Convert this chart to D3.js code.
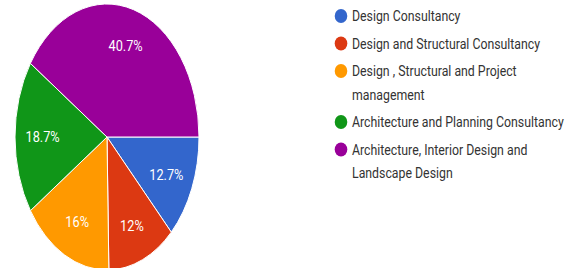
<!DOCTYPE html>
<html>
<head>
<meta charset="utf-8">
<script src="https://cdn.jsdelivr.net/npm/d3@7"></script>
<style>
  body { margin: 0; background: #fff; }
  svg { display: block; }
</style>
</head>
<body>
<div id="chart"></div>
<script>
// chart data
const categories = [
  "Design Consultancy",
  "Design and Structural Consultancy",
  "Design , Structural and Project management",
  "Architecture and Planning Consultancy",
  "Architecture, Interior Design and Landscape Design"
];
const shares = [12.7, 12, 16, 18.7, 40.7];
const shareLabels = ["12.7%", "12%", "16%", "18.7%", "40.7%"];
const colors = ["#3366cc", "#dc3912", "#ff9900", "#109618", "#990099"];

const w = 582, h = 268;
const cx = 107, cy = 137;
const ry = 133, squeeze = 92 / 133;   // pie is stretched tall in the picture
const textSqueeze = 0.88;

const svg = d3.select("#chart").append("svg")
  .attr("width", w)
  .attr("height", h);

const pie = d3.pie()
  .sort(null)
  .value(d => d)
  .startAngle(Math.PI / 2)
  .endAngle(Math.PI / 2 + 2 * Math.PI);

const arcs = pie(shares);
const arc = d3.arc().innerRadius(0).outerRadius(ry);
const labelArc = d3.arc().innerRadius(ry * 0.7).outerRadius(ry * 0.7);

const pieG = svg.append("g")
  .attr("transform", "translate(" + cx + "," + cy + ") scale(" + squeeze + ",1)");

pieG.selectAll("path")
  .data(arcs)
  .enter()
  .append("path")
  .attr("d", arc)
  .attr("fill", (d, i) => colors[i])
  .attr("stroke", "#fff")
  .attr("stroke-width", 1)
  .attr("vector-effect", "non-scaling-stroke");

// slice labels
svg.selectAll("text.slice")
  .data(arcs)
  .enter()
  .append("text")
  .attr("class", "slice")
  .attr("transform", d => {
    const c = labelArc.centroid(d);
    return "translate(" + (cx + c[0] * squeeze) + "," + (cy + c[1] * 1.03) + ") scale(0.85,1)";
  })
  .attr("text-anchor", "middle")
  .attr("dominant-baseline", "central")
  .attr("font-family", "Roboto, Arial, sans-serif")
  .attr("font-size", 15)
  .attr("fill", "#fff")
  .text((d, i) => shareLabels[i]);

// legend
const legendX = 341, textX = 352, maxW = 224;
const legend = svg.append("g");
let y = 16;
categories.forEach((name, i) => {
  legend.append("ellipse")
    .attr("cx", legendX)
    .attr("cy", y)
    .attr("rx", 6.3)
    .attr("ry", 7)
    .attr("fill", colors[i]);

  const t = legend.append("text")
    .attr("transform", "translate(" + textX + ",0) scale(" + textSqueeze + ",1)")
    .attr("font-family", "Roboto, Arial, sans-serif")
    .attr("font-size", 14)
    .attr("fill", "#333")
    .attr("dominant-baseline", "central");

  // wrap words into lines
  const words = name.split(" ");
  let lines = [], line = [];
  const probe = t.append("tspan");
  words.forEach(word => {
    const test = line.concat(word).join(" ");
    probe.text(test);
    if (line.length && probe.node().getComputedTextLength() * textSqueeze > maxW) {
      lines.push(line.join(" "));
      line = [word];
    } else {
      line.push(word);
    }
  });
  lines.push(line.join(" "));
  probe.remove();

  lines.forEach((ln, j) => {
    t.append("tspan")
      .attr("x", 0)
      .attr("y", y + j * 23.5)
      .text(ln);
  });
  y += (lines.length - 1) * 23.5 + 27.5;
});
</script>
</body>
</html>
